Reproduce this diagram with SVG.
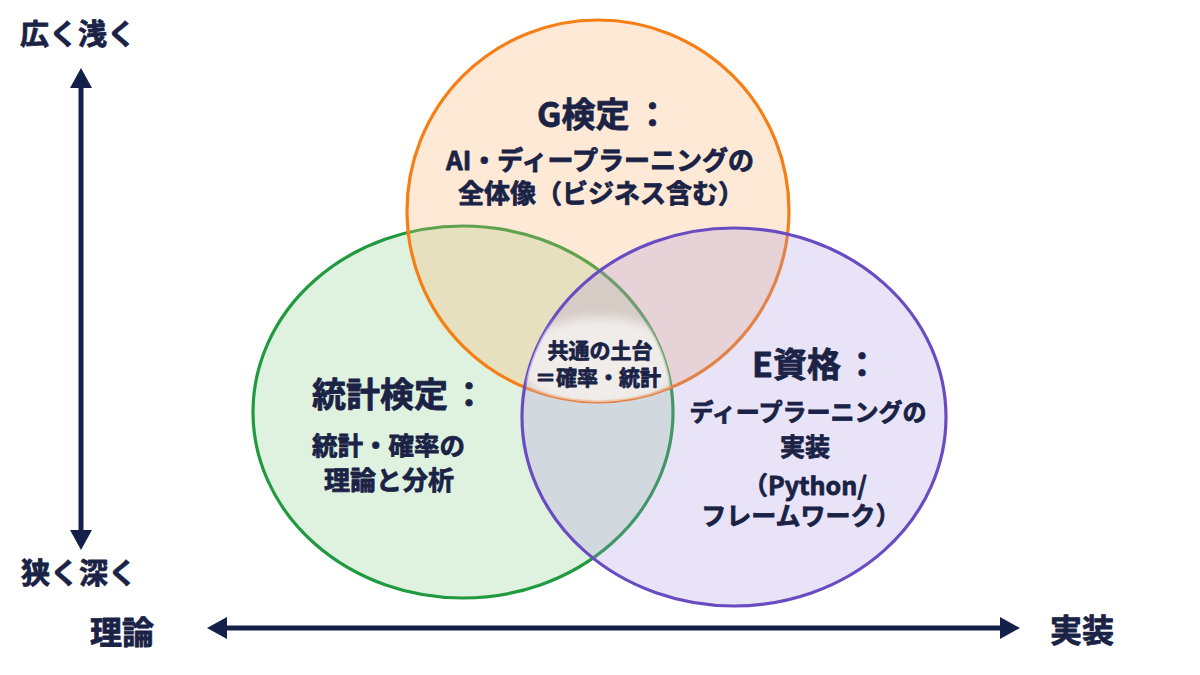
<svg xmlns="http://www.w3.org/2000/svg" width="1200" height="675" viewBox="0 0 1200 675">
  <style>
    .t { font-family: "Noto Sans CJK JP", "Noto Sans", sans-serif; font-weight: 700; fill: #1A2346; stroke: #1A2346; stroke-width: 0.8; stroke-linejoin: round; }
    .mid { text-anchor: middle; }
    .axis { stroke: #14204A; stroke-width: 5; fill: none; }
    .ring { stroke-width: 3.2; }
  </style>
  <defs>
    <marker id="arrow" viewBox="0 0 20 22" refX="0" refY="11" markerWidth="20" markerHeight="22" markerUnits="userSpaceOnUse" orient="auto-start-reverse">
      <path d="M0,0 L20,11 L0,22 Z" fill="#14204A"/>
    </marker>
    <clipPath id="cO"><ellipse cx="598" cy="211" rx="191" ry="191"/></clipPath>
    <clipPath id="cG"><ellipse cx="463" cy="412" rx="210" ry="186"/></clipPath>
    <clipPath id="cP"><ellipse cx="734" cy="417" rx="212" ry="189"/></clipPath>
    <filter id="soft" x="-30%" y="-50%" width="160%" height="200%"><feGaussianBlur stdDeviation="5"/></filter>
  </defs>
  <rect width="1200" height="675" fill="#FFFFFF"/>

  <g id="node-stat">
    <ellipse class="ring" cx="463" cy="412" rx="210" ry="186" fill="#BFE5BF" fill-opacity="0.5" stroke="#1F9A3F"/>
  </g>
  <g id="node-g">
    <ellipse class="ring" cx="598" cy="211" rx="191" ry="191" fill="#F8B673" fill-opacity="0.3" stroke="#F57F14"/>
  </g>
  <g id="node-e">
    <ellipse class="ring" cx="734" cy="417" rx="212" ry="189" fill="#A78FDF" fill-opacity="0.25" stroke="#6A4CC2"/>
  </g>
  <g id="node-common-bg" clip-path="url(#cP)">
    <g clip-path="url(#cG)">
      <g clip-path="url(#cO)">
        <ellipse cx="600" cy="362" rx="82" ry="45" fill="#FFFFFF" fill-opacity="0.62" filter="url(#soft)"/>
      </g>
    </g>
  </g>

  <g id="connectors">
    <line class="axis" x1="81" y1="88" x2="81" y2="530" marker-start="url(#arrow)" marker-end="url(#arrow)"/>
    <line class="axis" x1="227" y1="628" x2="1000" y2="628" marker-start="url(#arrow)" marker-end="url(#arrow)"/>
  </g>

  <g id="label-g">
    <text class="t" x="537" y="127" font-size="34">G検定<tspan dx="6">：</tspan></text>
    <text class="t mid" x="600" y="170" font-size="26">AI・ディープラーニングの</text>
    <text class="t mid" x="601" y="203" font-size="26">全体像（ビジネス含む）</text>
  </g>
  <g id="label-stat">
    <text class="t" x="312" y="407" font-size="34">統計検定<tspan dx="4">：</tspan></text>
    <text class="t" x="312" y="455" font-size="25.5">統計・確率の</text>
    <text class="t" x="324" y="490" font-size="26">理論と分析</text>
  </g>
  <g id="label-e">
    <text class="t" x="752" y="377" font-size="34">E資格<tspan dx="4">：</tspan></text>
    <text class="t mid" x="808" y="421" font-size="24">ディープラーニングの</text>
    <text class="t mid" x="805" y="456" font-size="25">実装</text>
    <text class="t mid" x="805" y="495" font-size="25">（Python/</text>
    <text class="t mid" x="801" y="525" font-size="25">フレームワーク）</text>
  </g>
  <g id="label-common">
    <text class="t mid" x="600" y="358" font-size="21">共通の土台</text>
    <text class="t mid" x="598" y="385" font-size="21">＝確率・統計</text>
  </g>
  <g id="axis-labels">
    <text class="t" x="20" y="45" font-size="29">広く浅く</text>
    <text class="t" x="21" y="584" font-size="29">狭く深く</text>
    <text class="t" x="90" y="644" font-size="32">理論</text>
    <text class="t" x="1050" y="642" font-size="32">実装</text>
  </g>
</svg>
